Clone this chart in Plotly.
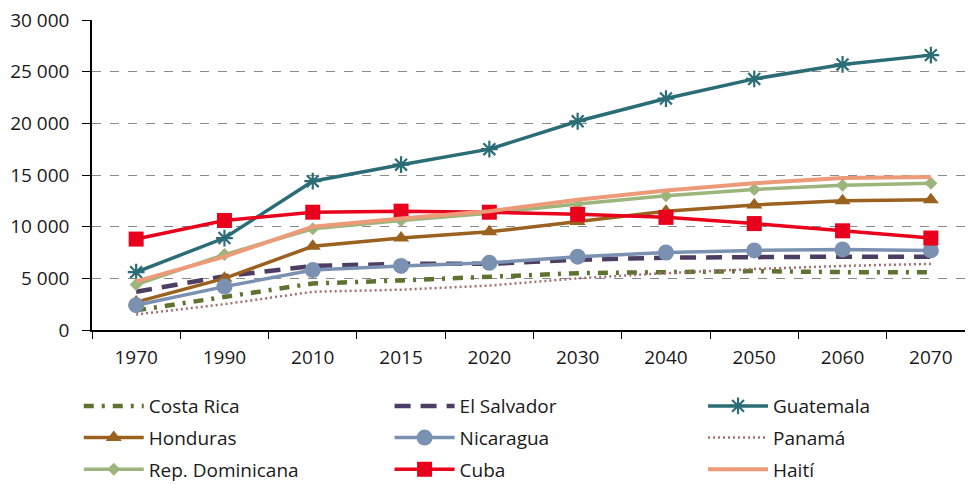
import plotly.graph_objects as go

anios = ["1970", "1990", "2010", "2015", "2020", "2030", "2040", "2050", "2060", "2070"]

costa_rica = [1900, 3200, 4500, 4800, 5100, 5500, 5600, 5700, 5600, 5600]
el_salvador = [3700, 5200, 6200, 6400, 6400, 6800, 7000, 7100, 7100, 7100]
guatemala = [5600, 8900, 14400, 16000, 17500, 20200, 22400, 24300, 25700, 26600]
honduras = [2700, 5000, 8100, 8900, 9500, 10500, 11500, 12100, 12500, 12600]
nicaragua = [2400, 4200, 5800, 6200, 6500, 7100, 7500, 7700, 7800, 7700]
panama = [1500, 2500, 3700, 3900, 4300, 5000, 5500, 5900, 6200, 6400]
rep_dominicana = [4400, 7300, 9800, 10600, 11300, 12200, 13000, 13600, 14000, 14200]
cuba = [8800, 10600, 11400, 11500, 11400, 11200, 10900, 10300, 9600, 8900]
haiti = [4700, 7100, 10000, 10800, 11500, 12600, 13500, 14200, 14700, 14800]

fig = go.Figure()


def agregar(nombre, valores, color, leyenda, dash="solid", ancho=3.5, simbolo=None, tam=12, borde=0):
    modo = "lines+markers" if simbolo else "lines"
    fig.add_trace(go.Scatter(
        x=anios, y=valores, name=nombre, mode=modo,
        line=dict(color=color, width=ancho, dash=dash),
        marker=dict(symbol=simbolo, size=tam, color=color,
                    line=dict(color=color, width=borde)) if simbolo else None,
        legend=leyenda, legendgroup=nombre,
    ))


# orden de dibujo como en el original (Excel)
agregar("Costa Rica", costa_rica, "#5f7331", "legend", dash="10px,8px,3px,8px", ancho=4.5)
agregar("El Salvador", el_salvador, "#4e3d62", "legend2", dash="16px,10px", ancho=4.5)
agregar("Guatemala", guatemala, "#2b6d76", "legend3", simbolo="asterisk-open", tam=14, borde=2.2)
agregar("Honduras", honduras, "#9a611f", "legend", simbolo="triangle-up", tam=14)
agregar("Nicaragua", nicaragua, "#7a91b2", "legend2", simbolo="circle", tam=16)
agregar("Panamá", panama, "#a4706f", "legend3", dash="2px,3px", ancho=2.5)
agregar("Rep. Dominicana", rep_dominicana, "#9cb57c", "legend", simbolo="diamond", tam=10)
agregar("Cuba", cuba, "#e8001d", "legend2", simbolo="square", tam=15)
agregar("Haití", haiti, "#ec9a78", "legend3", ancho=4)

leyenda_base = dict(
    orientation="v", yanchor="top", y=-0.184, xanchor="left",
    font=dict(family="Open Sans", size=19, color="#1a1a1a"),
    itemwidth=60, tracegroupgap=4, bgcolor="rgba(0,0,0,0)",
    traceorder="grouped",
)

# la página añade 8 px de margen, se compensa en los márgenes
fig.update_layout(
    width=973, height=485,
    margin=dict(l=84, r=6, t=12, b=163, autoexpand=False),
    paper_bgcolor="white", plot_bgcolor="white",
    separators=", ",
    font=dict(family="Open Sans", size=19, color="#1a1a1a"),
    showlegend=True,
    legend=dict(leyenda_base, x=-0.015),
    legend2=dict(leyenda_base, x=0.337),
    legend3=dict(leyenda_base, x=0.692),
    xaxis=dict(
        type="category", showline=True, linecolor="black", linewidth=1.5,
        ticks="outside", tickson="boundaries", ticklen=7, tickcolor="black",
        showgrid=False, range=[-0.5, 9.5], ticklabelstandoff=9,
        ticklabeloverflow="allow",
    ),
    yaxis=dict(
        range=[0, 30000], dtick=5000, tickformat=",d",
        showline=True, linecolor="black", linewidth=1.5,
        ticks="outside", ticklen=8, tickcolor="black", ticklabelstandoff=9,
        ticklabeloverflow="allow",
        showgrid=True, gridcolor="#8a8a8a", gridwidth=1.2, griddash="dash",
        zeroline=False,
    ),
)

fig.write_html("out.html")
